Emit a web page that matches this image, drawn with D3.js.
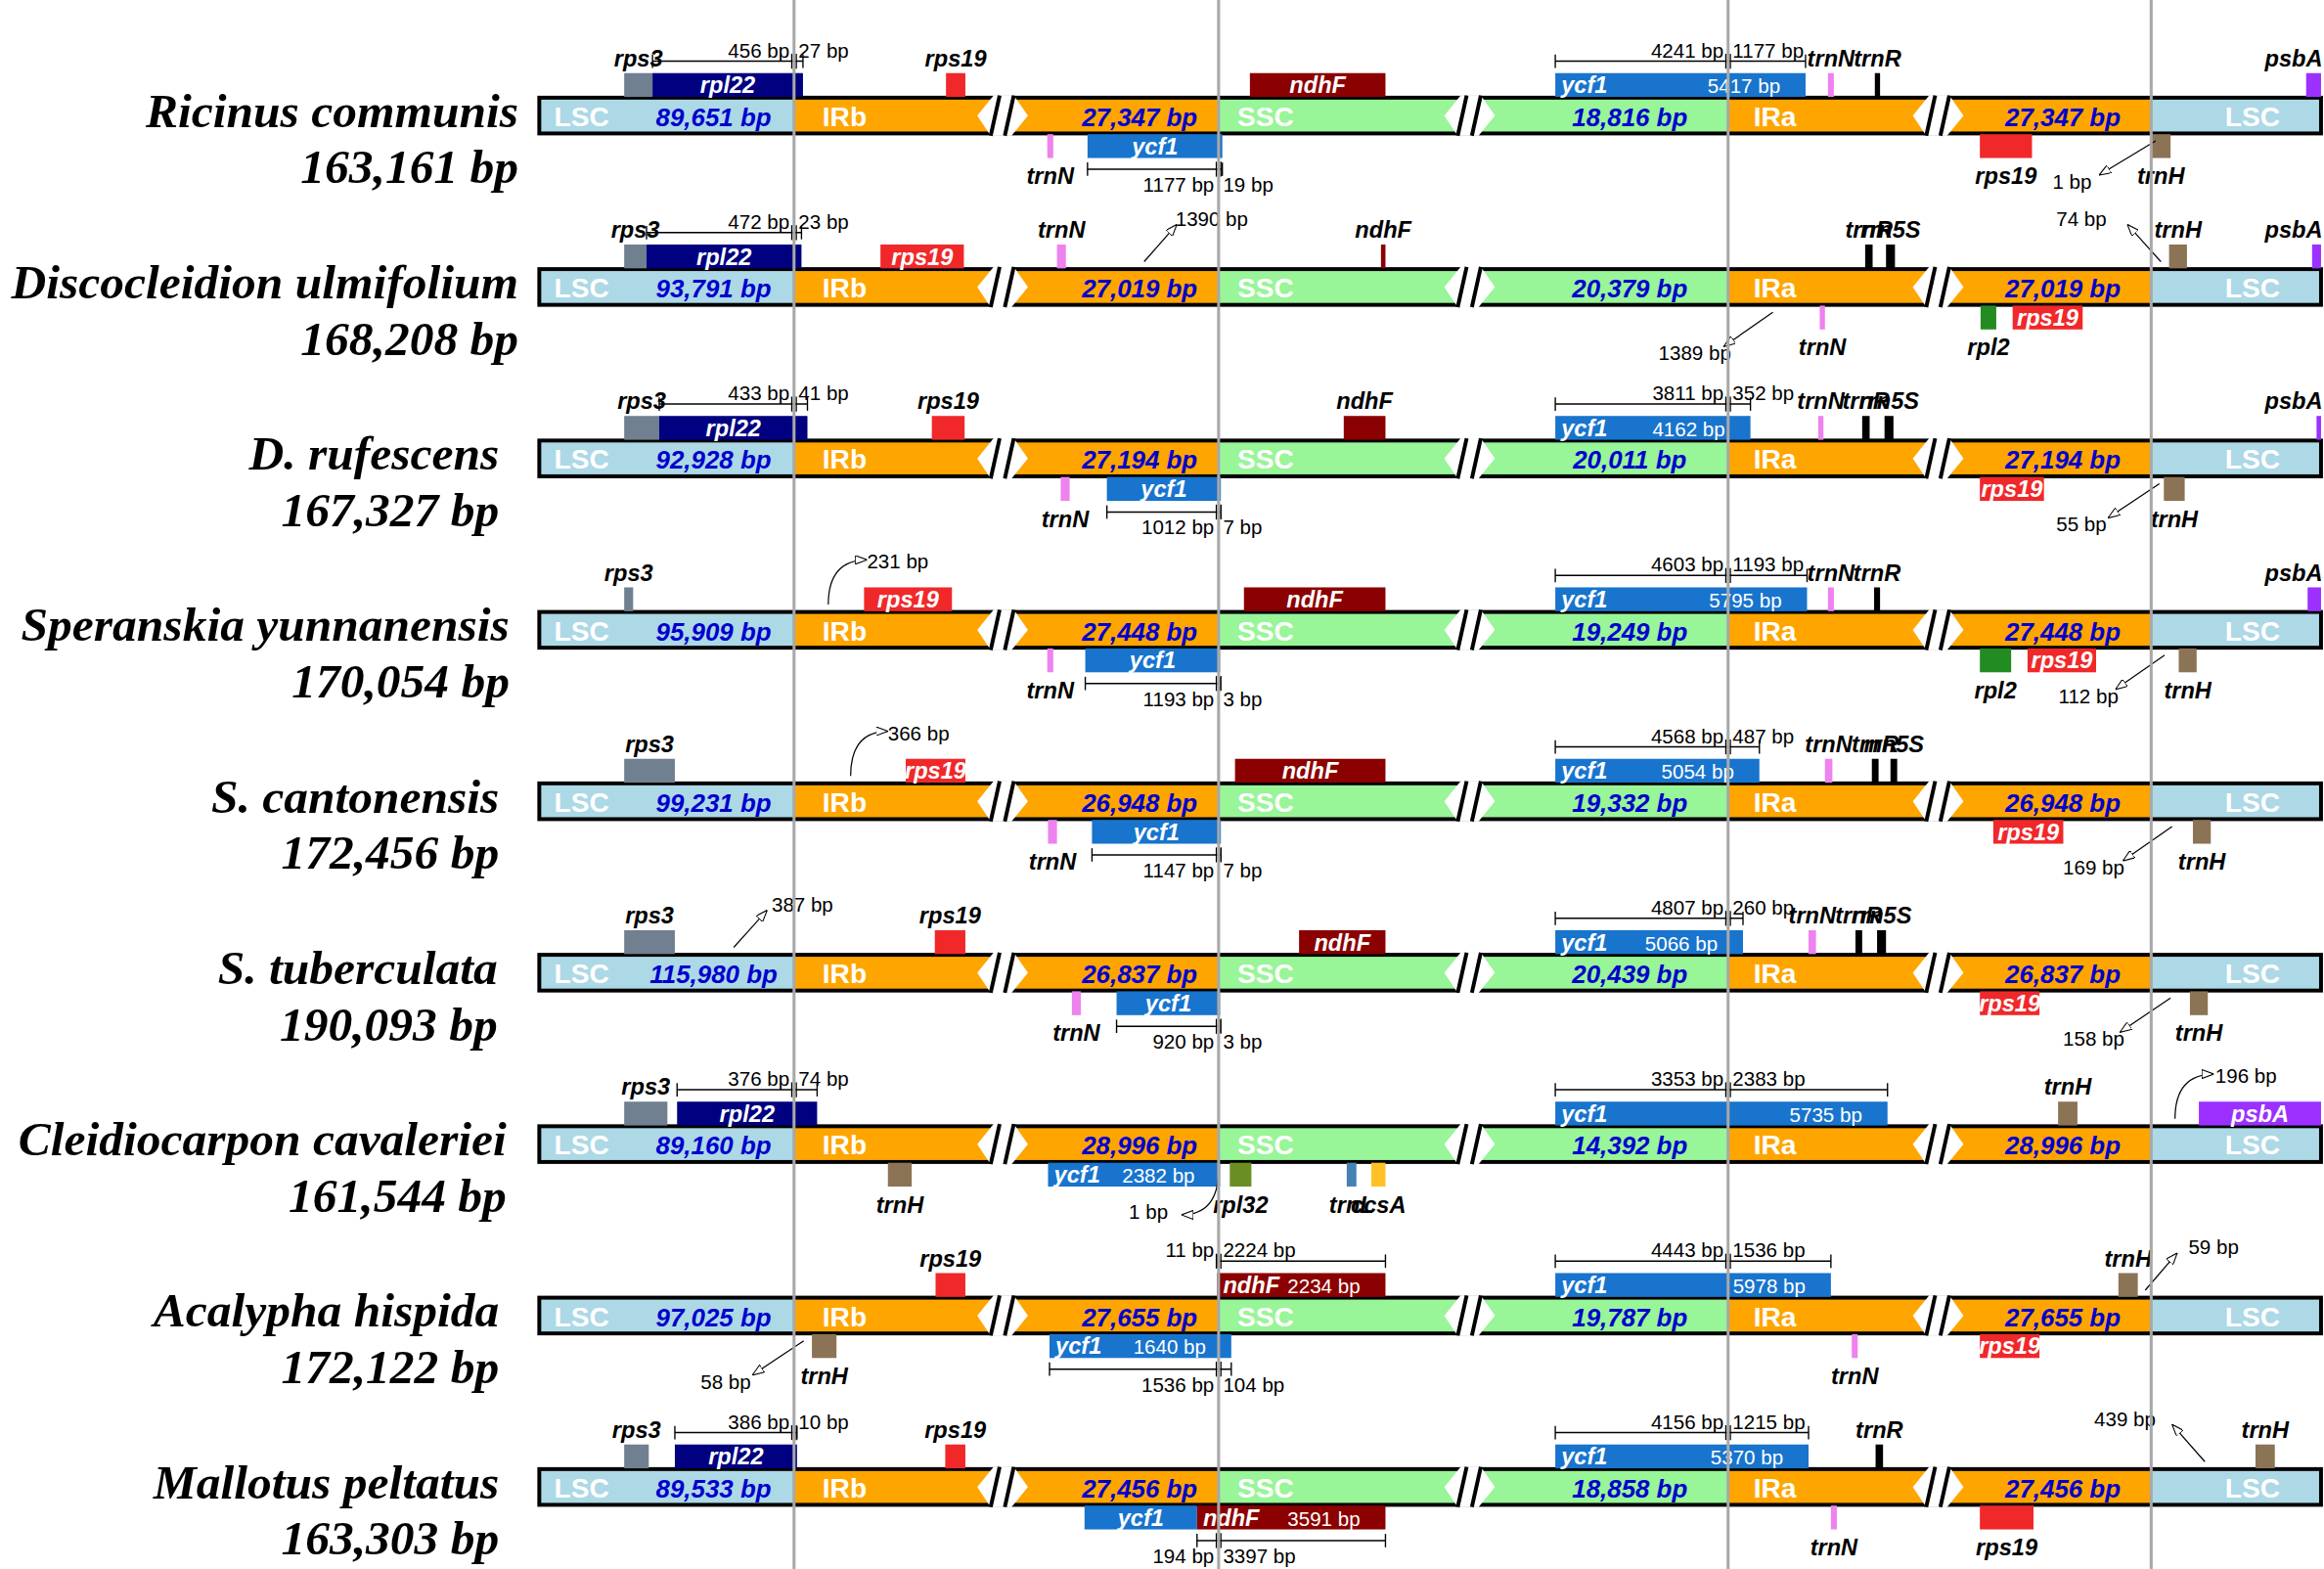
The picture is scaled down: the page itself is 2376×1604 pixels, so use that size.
<!DOCTYPE html>
<html>
<head>
<meta charset="utf-8">
<script src="https://cdn.jsdelivr.net/npm/d3@7"></script>
<style>
  html, body { margin: 0; padding: 0; background: #fff; }
  svg { display: block; }
</style>
</head>
<body>
<script>
  // ---- data ----
  const SPECIES = ['Ricinus communis', 'Discocleidion ulmifolium', 'D. rufescens',
    'Speranskia yunnanensis', 'S. cantonensis', 'S. tuberculata',
    'Cleidiocarpon cavaleriei', 'Acalypha hispida', 'Mallotus peltatus'];
  const GENOME = [163161, 168208, 167327, 170054, 172456, 190093, 161544, 172122, 163303];
  const LSC_LEN = [89651, 93791, 92928, 95909, 99231, 115980, 89160, 97025, 89533];
  const IR_LEN = [27347, 27019, 27194, 27448, 26948, 26837, 28996, 27655, 27456];
  const SSC_LEN = [18816, 20379, 20011, 19249, 19332, 20439, 14392, 19787, 18858];

  // schematic track units (not to scale): LSC|IRb, IRb|SSC, SSC|IRa, IRa|LSC
  const JUNCTIONS = [171, 456, 798, 1082];
  const BREAKS = [311, 624.5, 939];
  const TRACK_END = 1196;

  // row, gene, start, end, side (+ above / - below), label (out / in), size text
  const GENES = [
    [0, 'rps3', 57, 76, '+', 'out'], [0, 'rpl22', 76, 177, '+', 'in'],
    [0, 'rps19', 273, 286, '+', 'out'], [0, 'trnN', 341, 345, '-', 'out'],
    [0, 'ycf1', 368, 458.5, '-', 'in'], [0, 'ndhF', 477, 568, '+', 'in'],
    [0, 'ycf1', 682, 850, '+', 'in', '5417 bp'], [0, 'trnN', 865, 869, '+', 'out'],
    [0, 'trnR', 896.5, 900, '+', 'out'], [0, 'psbA', 1186, 1196, '+', 'out'],
    [0, 'rps19', 967, 1002, '-', 'out'], [0, 'trnH', 1082, 1095, '-', 'out'],

    [1, 'rps3', 57, 72, '+', 'out'], [1, 'rpl22', 72, 176, '+', 'in'],
    [1, 'rps19', 229, 285, '+', 'in'], [1, 'trnN', 347.5, 353.5, '+', 'out'],
    [1, 'ndhF', 565, 568, '+', 'out'], [1, 'trnR', 890, 895, '+', 'out'],
    [1, 'rrn5S', 904, 910, '+', 'out'], [1, 'trnN', 859.5, 863, '-', 'out'],
    [1, 'rpl2', 967.5, 978, '-', 'out'], [1, 'rps19', 989, 1036, '-', 'in'],
    [1, 'trnH', 1094, 1106, '+', 'out'], [1, 'psbA', 1190, 1196, '+', 'out'],

    [2, 'rps3', 57, 80.5, '+', 'out'], [2, 'rpl22', 80.5, 180, '+', 'in'],
    [2, 'rps19', 263.5, 285.5, '+', 'out'], [2, 'trnN', 350, 356, '-', 'out'],
    [2, 'ycf1', 381, 457.5, '-', 'in'], [2, 'ndhF', 540, 568, '+', 'out'],
    [2, 'ycf1', 682, 813, '+', 'in', '4162 bp'], [2, 'trnN', 858.5, 862, '+', 'out'],
    [2, 'trnR', 888, 893, '+', 'out'], [2, 'rrn5S', 903, 909, '+', 'out'],
    [2, 'rps19', 967, 1010, '-', 'in'], [2, 'trnH', 1090.5, 1104.5, '-', 'out'],
    [2, 'psbA', 1193, 1196, '+', 'out'],

    [3, 'rps3', 57, 63, '+', 'out'], [3, 'rps19', 218, 277, '+', 'in'],
    [3, 'trnN', 341, 345, '-', 'out'], [3, 'ycf1', 366.5, 457, '-', 'in'],
    [3, 'ndhF', 473, 568, '+', 'in'], [3, 'ycf1', 682, 851, '+', 'in', '5795 bp'],
    [3, 'trnN', 865, 869, '+', 'out'], [3, 'trnR', 896, 900, '+', 'out'],
    [3, 'psbA', 1187, 1196, '+', 'out'], [3, 'rpl2', 967, 988, '-', 'out'],
    [3, 'rps19', 999, 1045, '-', 'in'], [3, 'trnH', 1100.5, 1112.5, '-', 'out'],

    [4, 'rps3', 57, 91, '+', 'out'], [4, 'rps19', 246, 286, '+', 'in'],
    [4, 'trnN', 341.5, 347.5, '-', 'out'], [4, 'ycf1', 371, 457.5, '-', 'in'],
    [4, 'ndhF', 467, 568, '+', 'in'], [4, 'ycf1', 682, 819, '+', 'in', '5054 bp'],
    [4, 'trnN', 863, 868, '+', 'out'], [4, 'trnR', 894.5, 899, '+', 'out'],
    [4, 'rrn5S', 907, 911.5, '+', 'out'], [4, 'rps19', 976, 1023, '-', 'in'],
    [4, 'trnH', 1110, 1122, '-', 'out'],

    [5, 'rps3', 57, 91, '+', 'out'], [5, 'rps19', 265.5, 286, '+', 'out'],
    [5, 'trnN', 357.5, 363.5, '-', 'out'], [5, 'ycf1', 387.5, 457, '-', 'in'],
    [5, 'ndhF', 510, 568, '+', 'in'], [5, 'ycf1', 682, 808, '+', 'in', '5066 bp'],
    [5, 'trnN', 852, 857, '+', 'out'], [5, 'trnR', 883.5, 888, '+', 'out'],
    [5, 'rrn5S', 898, 904, '+', 'out'], [5, 'rps19', 967, 1007, '-', 'in'],
    [5, 'trnH', 1108, 1120, '-', 'out'],

    [6, 'rps3', 57, 86, '+', 'out'], [6, 'rpl22', 92.5, 186.5, '+', 'in'],
    [6, 'trnH', 234, 250, '-', 'out'], [6, 'ycf1', 341.5, 457, '-', 'in', '2382 bp'],
    [6, 'rpl32', 463.5, 478, '-', 'out'], [6, 'trnL', 542, 548.5, '-', 'out'],
    [6, 'ccsA', 558.5, 568, '-', 'out'], [6, 'ycf1', 682, 905, '+', 'in', '5735 bp'],
    [6, 'trnH', 1019.5, 1032.5, '+', 'out'], [6, 'psbA', 1114, 1196, '+', 'in'],

    [7, 'rps19', 266, 286, '+', 'out'], [7, 'trnH', 183, 199.5, '-', 'out'],
    [7, 'ycf1', 342.5, 464.5, '-', 'in', '1640 bp'], [7, 'ndhF', 455, 568, '+', 'in', '2234 bp'],
    [7, 'ycf1', 682, 867, '+', 'in', '5978 bp'], [7, 'trnN', 881, 885, '-', 'out'],
    [7, 'rps19', 967, 1007, '-', 'in'], [7, 'trnH', 1060, 1073, '+', 'out'],

    [8, 'rps3', 57, 73.5, '+', 'out'], [8, 'rpl22', 91, 173, '+', 'in'],
    [8, 'rps19', 272.5, 286, '+', 'out'], [8, 'ycf1', 366, 441.5, '-', 'in'],
    [8, 'ndhF', 441.5, 568, '-', 'in', '3591 bp'], [8, 'ycf1', 682, 852, '+', 'in', '5370 bp'],
    [8, 'trnR', 897, 902, '+', 'out'], [8, 'trnN', 867, 871, '-', 'out'],
    [8, 'rps19', 967, 1003, '-', 'out'], [8, 'trnH', 1152, 1165, '+', 'out']
  ];

  // row, gene, side, bp left of junction, bp right of junction
  const MEASURES = [
    [0, 'rpl22', '+', '456 bp', '27 bp'], [0, 'ycf1', '-', '1177 bp', '19 bp'],
    [0, 'ycf1', '+', '4241 bp', '1177 bp'],
    [1, 'rpl22', '+', '472 bp', '23 bp'],
    [2, 'rpl22', '+', '433 bp', '41 bp'], [2, 'ycf1', '-', '1012 bp', '7 bp'],
    [2, 'ycf1', '+', '3811 bp', '352 bp'],
    [3, 'ycf1', '-', '1193 bp', '3 bp'], [3, 'ycf1', '+', '4603 bp', '1193 bp'],
    [4, 'ycf1', '-', '1147 bp', '7 bp'], [4, 'ycf1', '+', '4568 bp', '487 bp'],
    [5, 'ycf1', '-', '920 bp', '3 bp'], [5, 'ycf1', '+', '4807 bp', '260 bp'],
    [6, 'rpl22', '+', '376 bp', '74 bp'], [6, 'ycf1', '+', '3353 bp', '2383 bp'],
    [7, 'ndhF', '+', '11 bp', '2224 bp'], [7, 'ycf1', '-', '1536 bp', '104 bp'],
    [7, 'ycf1', '+', '4443 bp', '1536 bp'],
    [8, 'rpl22', '+', '386 bp', '10 bp'], [8, 'ndhF', '-', '194 bp', '3397 bp'],
    [8, 'ycf1', '+', '4156 bp', '1215 bp']
  ];

  // row, side, arrow from, arrow to, label at, anchor, text, curved
  const NOTES = [
    [0, '-', 1085, 1047, 1042, 'end', '1 bp', false],
    [1, '+', 406, 428, 427, 'start', '1390 bp', false],
    [1, '-', 828, 795, 800, 'end', '1389 bp', false],
    [1, '+', 1088.5, 1066, 1052, 'end', '74 bp', false],
    [2, '-', 1087.5, 1053, 1052, 'end', '55 bp', false],
    [3, '+', 194, 220, 220, 'start', '231 bp', true],
    [3, '-', 1091, 1058, 1060, 'end', '112 bp', false],
    [4, '+', 209, 234, 234, 'start', '366 bp', true],
    [4, '-', 1096, 1063, 1064, 'end', '169 bp', false],
    [5, '+', 130.5, 153, 156, 'start', '387 bp', false],
    [5, '-', 1095, 1061, 1064, 'end', '158 bp', false],
    [6, '-', 456, 431, 422, 'end', '1 bp', true],
    [6, '+', 1098, 1124, 1125, 'start', '196 bp', true],
    [7, '-', 177.5, 143, 142, 'end', '58 bp', false],
    [7, '+', 1078, 1099.5, 1107, 'start', '59 bp', false],
    [8, '+', 1118, 1096, 1085, 'end', '439 bp', false]
  ];

  // ---- styles / layout ----
  const GENE_COLORS = {
    rps3: '#708090', rpl22: '#000080', rps19: '#f0282a', trnN: '#ee82ee', ycf1: '#1874cd',
    ndhF: '#8b0000', trnR: '#000000', rrn5S: '#000000', psbA: '#9b30ff', trnH: '#8b7355',
    rpl2: '#228b22', rpl32: '#6b8e23', trnL: '#4682b4', ccsA: '#ffc125'
  };
  const SEG_NAMES = ['LSC', 'IRb', 'SSC', 'IRa', 'LSC'];
  const SEG_COLORS = ['#add8e6', '#ffa500', '#98f598', '#ffa500', '#add8e6'];
  const NAME_X = [348, 348, 335, 342, 335, 334, 340, 335, 335];
  const SANS = "'Liberation Sans', Arial, sans-serif";
  const SERIF = "'Liberation Serif', 'Times New Roman', serif";
  const BLUE = '#0000cd';

  const W = 1560, H = 1053;
  const BAR_H = 24, GENE_H = 16;

  const svg = d3.select('body').append('svg')
    .attr('width', 2376)
    .attr('height', 1604)
    .attr('viewBox', '0 0 ' + W + ' ' + H);

  const x = d3.scaleLinear().domain([0, TRACK_END]).range([362, 1558]);
  const y = d3.scalePoint().domain(d3.range(SPECIES.length)).range([77.5, 998]);
  const fmt = d3.format(',');

  svg.append('defs').append('marker')
    .attr('id', 'arr')
    .attr('viewBox', '0 0 8 6')
    .attr('refX', 8).attr('refY', 3)
    .attr('markerWidth', 8).attr('markerHeight', 6)
    .attr('markerUnits', 'userSpaceOnUse')
    .attr('orient', 'auto')
    .append('path')
    .attr('d', 'M0,0L8,3L0,6Z')
    .attr('fill', '#fff')
    .attr('stroke', '#000')
    .attr('stroke-width', 0.7);

  const barLayer = svg.append('g');
  const geneLayer = svg.append('g');
  const textLayer = svg.append('g');
  const lineLayer = svg.append('g');

  /*
   * species names
   */
  SPECIES.forEach(function (name, i) {
    let t = textLayer.append('text')
      .attr('text-anchor', 'end')
      .attr('font-family', SERIF)
      .attr('font-weight', 'bold')
      .attr('font-style', 'italic')
      .attr('font-size', 32.5);
    t.append('tspan').attr('x', NAME_X[i]).attr('y', y(i) + 7.5).text(name);
    t.append('tspan').attr('x', NAME_X[i]).attr('y', y(i) + 45.5).text(fmt(GENOME[i]) + ' bp');
  });

  /*
   * quadripartite bars
   */
  const bounds = [0].concat(JUNCTIONS, [TRACK_END]);
  SPECIES.forEach(function (name, i) {
    let g = barLayer.append('g').attr('transform', 'translate(0,' + y(i) + ')');
    g.selectAll('rect.seg')
      .data(d3.range(5))
      .enter()
      .append('rect')
      .attr('class', 'seg')
      .attr('x', function (k) { return x(bounds[k]); })
      .attr('y', -BAR_H / 2)
      .attr('width', function (k) { return x(bounds[k + 1]) - x(bounds[k]); })
      .attr('height', BAR_H)
      .attr('fill', function (k) { return SEG_COLORS[k]; });
    g.append('rect')
      .attr('x', x(0)).attr('y', -BAR_H / 2)
      .attr('width', x(TRACK_END) - x(0)).attr('height', BAR_H)
      .attr('fill', 'none').attr('stroke', '#000').attr('stroke-width', 2.6);

    // "//" breaks: white diamond with two slashes
    BREAKS.forEach(function (b) {
      let c = x(b), t = -BAR_H / 2, d = BAR_H / 2;
      g.append('polygon')
        .attr('points', [[c - 17, 0], [c - 6, t - 1.6], [c + 7.5, t - 1.6], [c + 17, 0], [c + 6, d + 1.6], [c - 8, d + 1.6]].join(' '))
        .attr('fill', '#fff');
      [[-8, -2], [1.5, 7.5]].forEach(function (p) {
        g.append('line')
          .attr('x1', c + p[0]).attr('y1', d + 1.5)
          .attr('x2', c + p[1]).attr('y2', t - 1.5)
          .attr('stroke', '#000').attr('stroke-width', 2.6);
      });
    });

    // region names and lengths
    let segText = [[10, 'start'], [190, 'start'], [468.5, 'start'], [815, 'start'], [1150, 'middle']];
    segText.forEach(function (p, k) {
      g.append('text')
        .attr('x', x(p[0])).attr('y', 7)
        .attr('text-anchor', p[1])
        .attr('font-family', SANS).attr('font-weight', 'bold').attr('font-size', 18.5)
        .attr('fill', '#fff')
        .text(SEG_NAMES[k]);
    });
    let lens = [[117, LSC_LEN[i]], [403, IR_LEN[i]], [732, SSC_LEN[i]], [1022.7, IR_LEN[i]]];
    lens.forEach(function (p) {
      g.append('text')
        .attr('x', x(p[0])).attr('y', 7)
        .attr('text-anchor', 'middle')
        .attr('font-family', SANS).attr('font-weight', 'bold').attr('font-style', 'italic')
        .attr('font-size', 17)
        .attr('fill', BLUE)
        .text(fmt(p[1]) + ' bp');
    });
  });

  /*
   * genes
   */
  function geneTop(row, side) {
    return side === '+' ? y(row) - BAR_H / 2 - 0.5 - GENE_H : y(row) + BAR_H / 2 + 0.5;
  }

  geneLayer.selectAll('rect')
    .data(GENES)
    .enter()
    .append('rect')
    .attr('x', function (d) { return x(d[2]); })
    .attr('y', function (d) { return geneTop(d[0], d[4]); })
    .attr('width', function (d) { return Math.max(1, x(d[3]) - x(d[2])); })
    .attr('height', GENE_H)
    .attr('fill', function (d) { return GENE_COLORS[d[1]]; });

  GENES.forEach(function (d) {
    let cx = (x(d[2]) + x(d[3])) / 2;
    if (d[5] === 'in') {
      let cy = geneTop(d[0], d[4]) + GENE_H / 2 + 5.5;
      let t = textLayer.append('text')
        .attr('y', cy)
        .attr('font-family', SANS).attr('font-weight', 'bold').attr('font-style', 'italic')
        .attr('font-size', 15.5).attr('fill', '#fff')
        .text(d[1]);
      if (d[6]) {
        t.attr('x', x(d[2]) + 4).attr('text-anchor', 'start');
        textLayer.append('text')
          .attr('x', x(d[3]) - 17).attr('y', cy)
          .attr('text-anchor', 'end')
          .attr('font-family', SANS).attr('font-size', 13.5).attr('fill', '#fff')
          .text(d[6]);
      } else {
        t.attr('x', cx).attr('text-anchor', 'middle');
      }
    } else {
      let ty = d[4] === '+' ? y(d[0]) - 33 : y(d[0]) + 46;
      let t = textLayer.append('text')
        .attr('x', cx).attr('y', ty)
        .attr('text-anchor', 'middle')
        .attr('font-family', SANS).attr('font-weight', 'bold').attr('font-style', 'italic')
        .attr('font-size', 15.5).attr('fill', '#000')
        .text(d[1]);
      let len = t.node().getComputedTextLength();
      if (cx + len / 2 > x(TRACK_END) + 1) {
        t.attr('x', x(TRACK_END) + 1).attr('text-anchor', 'end');
      }
    }
  });

  /*
   * distance rulers across junctions
   */
  MEASURES.forEach(function (m) {
    let gene = GENES.find(function (r) { return r[0] === m[0] && r[1] === m[1] && r[4] === m[2]; });
    let j = JUNCTIONS.find(function (v) { return v >= gene[2] && v <= gene[3]; });
    let a = x(gene[2]), b = x(gene[3]), jx = x(j);
    let ly = m[2] === '+' ? y(m[0]) - 36.5 : y(m[0]) + 36;
    let ty = m[2] === '+' ? y(m[0]) - 39 : y(m[0]) + 51;
    let g = textLayer.append('g').attr('stroke', '#000').attr('stroke-width', 0.9);
    g.append('line').attr('x1', a).attr('x2', b).attr('y1', ly).attr('y2', ly);
    [a, b].forEach(function (v) {
      g.append('line').attr('x1', v).attr('x2', v).attr('y1', ly - 4.5).attr('y2', ly + 4.5);
    });
    [jx - 1.5, jx + 1.5].forEach(function (v) {
      g.append('line').attr('x1', v).attr('x2', v).attr('y1', ly - 5).attr('y2', ly + 5);
    });
    textLayer.append('text')
      .attr('x', jx - 3).attr('y', ty).attr('text-anchor', 'end')
      .attr('font-family', SANS).attr('font-size', 13.5)
      .text(m[3]);
    textLayer.append('text')
      .attr('x', jx + 3).attr('y', ty).attr('text-anchor', 'start')
      .attr('font-family', SANS).attr('font-size', 13.5)
      .text(m[4]);
  });

  /*
   * arrow notes
   */
  NOTES.forEach(function (n) {
    let up = n[1] === '+';
    let cy = y(n[0]);
    let y1 = cy + (up ? -17 : 17);
    let y2 = cy + (up ? (n[7] ? -47 : -42) : (n[7] ? 47.5 : 40));
    let x1 = x(n[2]), x2 = x(n[3]);
    let path = n[7]
      ? 'M' + x1 + ',' + y1 + 'Q' + x1 + ',' + y2 + ' ' + x2 + ',' + y2
      : 'M' + x1 + ',' + y1 + 'L' + x2 + ',' + y2;
    textLayer.append('path')
      .attr('d', path)
      .attr('fill', 'none')
      .attr('stroke', '#000')
      .attr('stroke-width', 0.8)
      .attr('marker-end', 'url(#arr)');
    textLayer.append('text')
      .attr('x', x(n[4]))
      .attr('y', cy + (up ? -41 : (n[7] ? 50 : 49)))
      .attr('text-anchor', n[5])
      .attr('font-family', SANS).attr('font-size', 13.5)
      .text(n[6]);
  });

  /*
   * junction lines (drawn on top, as in the source figure)
   */
  lineLayer.selectAll('line')
    .data(JUNCTIONS)
    .enter()
    .append('line')
    .attr('x1', function (d) { return x(d); })
    .attr('x2', function (d) { return x(d); })
    .attr('y1', 0).attr('y2', H)
    .attr('stroke', '#a8a8a8').attr('stroke-width', 2);
</script>
</body>
</html>
